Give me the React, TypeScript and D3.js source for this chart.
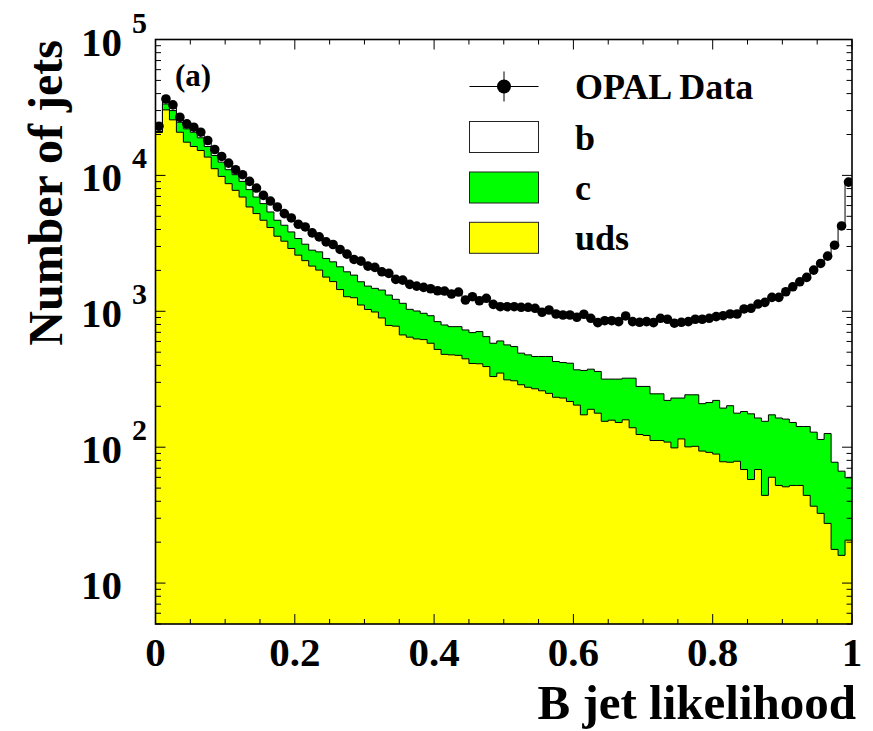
import React from 'react';
import * as d3 from 'd3';

// ---------- data ----------
const NBINS = 100;
const X_DOMAIN: [number, number] = [0, 1];
const Y_DOMAIN: [number, number] = [5, 1e5];

// OPAL data, counts per bin of width 0.01
const dataCounts = [
  23000, 36530, 33010, 26780, 23950, 22620, 20780, 18060, 15510, 13790,
  12310, 11010, 10120, 9036, 8070, 7134, 6478, 5855, 5236, 4861,
  4371, 4176, 3773, 3527, 3240, 3101, 2851, 2633, 2407, 2339,
  2150, 2103, 1952, 1900, 1717, 1697, 1578, 1533, 1500, 1465,
  1416, 1409, 1339, 1385, 1210, 1280, 1196, 1246, 1125, 1081,
  1081, 1081, 1070, 1070, 1052, 983, 1022, 955, 939, 939,
  904, 951, 888, 825, 853, 853, 839, 924, 839, 830,
  839, 825, 888, 874, 817, 830, 839, 874, 874, 888,
  913, 928, 955, 955, 1040, 1052, 1131, 1164, 1267, 1267,
  1393, 1515, 1649, 1776, 2009, 2250, 2545, 3064, 4246, 8930,
];

// stacked MC: uds + c + b (top of the white histogram)
const stackB = [
  22300, 35000, 31800, 25800, 23000, 21800, 20000, 17400, 15000, 13300,
  11900, 10650, 9800, 8750, 7800, 6900, 6250, 5650, 5050, 4700,
  4220, 4030, 3640, 3400, 3130, 2990, 2750, 2540, 2330, 2260,
  2080, 2030, 1890, 1840, 1660, 1640, 1530, 1490, 1455, 1420,
  1375, 1370, 1300, 1345, 1175, 1245, 1160, 1210, 1095, 1050,
  1050, 1050, 1040, 1040, 1020, 955, 995, 930, 915, 915,
  880, 925, 865, 805, 830, 830, 815, 900, 815, 805,
  815, 800, 860, 848, 792, 805, 815, 848, 848, 862,
  890, 905, 930, 930, 1015, 1025, 1100, 1135, 1235, 1235,
  1360, 1480, 1610, 1735, 1960, 2200, 2490, 3000, 4150, 8750,
];

// stacked MC: uds + c (top of the green histogram)
const stackC = [
  21030, 33570, 29990, 24610, 22010, 20780, 18900, 16320, 14020, 12520,
  11010, 10120, 9036, 7856, 6931, 6200, 5380, 4676, 4298, 3837,
  3432, 3117, 2817, 2737, 2448, 2311, 2125, 1952, 1846, 1649,
  1533, 1475, 1433, 1317, 1225, 1145, 1034, 1005, 967, 928,
  839, 793, 771, 771, 729, 697, 709, 651, 582, 605,
  566, 550, 492, 478, 465, 465, 465, 427, 420, 415,
  371, 367, 375, 361, 317, 317, 317, 322, 322, 280,
  280, 247, 247, 221, 230, 230, 243, 243, 209, 213,
  221, 194, 202, 178, 183, 176, 164, 155, 173, 164,
  161, 152, 142, 142, 129, 114, 126, 77.5, 66.6, 59.5,
];

// uds only (top of the yellow histogram)
const stackUds = [
  20680, 30340, 25630, 20780, 17550, 16320, 15250, 13630, 11200, 9833,
  8692, 7762, 6931, 5855, 5236, 4676, 4133, 3568, 3279, 2899,
  2589, 2359, 2150, 2009, 1785, 1654, 1445, 1280, 1258, 1112,
  1031, 988, 893, 787, 777, 670, 645, 626, 619, 582,
  524, 482, 478, 474, 447, 413, 411, 392, 331, 351,
  313, 308, 288, 276, 269, 260, 249, 233, 230, 217,
  204, 173, 190, 178, 155, 158, 152, 159, 139, 124,
  122, 112, 112, 109, 98.8, 115, 100.5, 101.5, 93.6, 91.6,
  89, 78.1, 77.5, 78.8, 68.5, 57.8, 68.5, 44.2, 60.1, 52.3,
  51.1, 52.3, 52.3, 44.2, 36.8, 32.6, 27.5, 17.7, 16.0, 20.7,
];

const xTickValues = [0, 0.2, 0.4, 0.6, 0.8, 1];
const xTickLabels = ['0', '0.2', '0.4', '0.6', '0.8', '1'];
const yDecadeExponents = [1, 2, 3, 4, 5];
const legendLabels = ['OPAL Data', 'b', 'c', 'uds'];
const legendFills = [null, '#ffffff', '#00ff00', '#ffff00'];

// ---------- layout ----------
const W = 873;
const H = 731;
const PL = 155.5;
const PR = 852;
const PT = 39.5;
const PB = 624;
const FONT = "'Liberation Serif', 'Times New Roman', Times, 'DejaVu Serif', serif";
const TXT: React.CSSProperties = { fontFamily: FONT, fontWeight: 700 };

export default function App() {
  const x = d3.scaleLinear().domain(X_DOMAIN).range([PL, PR]);
  const y = d3.scaleLog().domain(Y_DOMAIN).range([PB, PT]);
  const binW = (X_DOMAIN[1] - X_DOMAIN[0]) / NBINS;

  const stepPts = (vals: number[]) => {
    const pts: [number, number][] = [];
    vals.forEach((v, i) => {
      pts.push([x(X_DOMAIN[0] + i * binW), y(v)]);
      pts.push([x(X_DOMAIN[0] + (i + 1) * binW), y(v)]);
    });
    return pts;
  };
  const area = d3.area<[number, number]>().x((p) => p[0]).y0(y(Y_DOMAIN[0])).y1((p) => p[1]);
  const line = d3.line<[number, number]>().x((p) => p[0]).y((p) => p[1]);

  const layers = [
    { vals: stackB, fill: '#ffffff' },
    { vals: stackC, fill: '#00ff00' },
    { vals: stackUds, fill: '#ffff00' },
  ];

  const xMinor = d3.range(0, 21).map((k) => k * 0.05);
  const yMinor: number[] = [];
  for (let e = 0; e <= 4; e++) {
    for (let m = 2; m <= 9; m++) {
      const v = m * Math.pow(10, e);
      if (v >= Y_DOMAIN[0] && v < Y_DOMAIN[1]) yMinor.push(v);
    }
  }

  const legX0 = 469.5;
  const legX1 = 538.5;
  const legRowY = [86.5, 137, 187.5, 237.8];

  return (
    <svg
      width={W}
      height={H}
      viewBox={`0 0 ${W} ${H}`}
      style={{ position: 'absolute', left: 0, top: 0, background: '#fff' }}
    >
      <rect x={0} y={0} width={W} height={H} fill="#fff" />
      <defs>
        <clipPath id="plotClip">
          <rect x={PL} y={PT} width={PR - PL} height={PB - PT} />
        </clipPath>
      </defs>

      <g clipPath="url(#plotClip)">
        {layers.map((l, i) => {
          const pts = stepPts(l.vals);
          return (
            <g key={i}>
              <path d={area(pts) || ''} fill={l.fill} stroke="none" />
              <path d={line(pts) || ''} fill="none" stroke="#000" strokeWidth={1} />
            </g>
          );
        })}
        {dataCounts.map((v, i) => {
          const cx = x(X_DOMAIN[0] + (i + 0.5) * binW);
          const cy = y(v);
          const err = Math.sqrt(v);
          return (
            <g key={i}>
              <line x1={x(X_DOMAIN[0] + i * binW)} x2={x(X_DOMAIN[0] + (i + 1) * binW)} y1={cy} y2={cy} stroke="#000" strokeWidth={1} />
              <line x1={cx} x2={cx} y1={y(v + err)} y2={y(Math.max(v - err, Y_DOMAIN[0]))} stroke="#000" strokeWidth={1} />
              <circle cx={cx} cy={cy} r={4.8} fill="#000" />
            </g>
          );
        })}
      </g>

      {xMinor.map((v, i) => {
        const major = xTickValues.some((t) => Math.abs(t - v) < 1e-9);
        const len = major ? 10 : 5;
        const px = x(v);
        return (
          <g key={'xt' + i}>
            <line x1={px} x2={px} y1={PB} y2={PB - len} stroke="#000" strokeWidth={1} />
            <line x1={px} x2={px} y1={PT} y2={PT + len} stroke="#000" strokeWidth={1} />
          </g>
        );
      })}
      {yDecadeExponents.map((e) => {
        const py = y(Math.pow(10, e));
        return (
          <g key={'yM' + e}>
            <line x1={PL} x2={PL + 10} y1={py} y2={py} stroke="#000" strokeWidth={1} />
            <line x1={PR} x2={PR - 10} y1={py} y2={py} stroke="#000" strokeWidth={1} />
          </g>
        );
      })}
      {yMinor.map((v, i) => {
        const py = y(v);
        return (
          <g key={'ym' + i}>
            <line x1={PL} x2={PL + 5.5} y1={py} y2={py} stroke="#000" strokeWidth={1} />
            <line x1={PR} x2={PR - 5.5} y1={py} y2={py} stroke="#000" strokeWidth={1} />
          </g>
        );
      })}

      <rect x={PL} y={PT} width={PR - PL} height={PB - PT} fill="none" stroke="#000" strokeWidth={1.6} />

      {xTickValues.map((v, i) => (
        <text key={'xl' + i} x={x(v)} y={666} textAnchor="middle" fontSize={41} style={TXT}>
          {xTickLabels[i]}
        </text>
      ))}
      {yDecadeExponents.map((e) => {
        const py = y(Math.pow(10, e));
        return (
          <g key={'yl' + e}>
            <text x={122} y={py + 16} textAnchor="end" fontSize={41} style={TXT}>10</text>
            {e > 1 && (
              <text x={132} y={py - 7} textAnchor="start" fontSize={30} style={TXT}>{String(e)}</text>
            )}
          </g>
        );
      })}

      <text x={856} y={719} textAnchor="end" fontSize={49} style={TXT}>B jet likelihood</text>
      <text transform="translate(62,40) rotate(-90)" textAnchor="end" fontSize={48} style={TXT}>Number of jets</text>

      <text x={175} y={86} fontSize={31} style={TXT}>(a)</text>

      {legendLabels.map((lab, i) => {
        const cy = legRowY[i];
        const fill = legendFills[i];
        return (
          <g key={'lg' + i}>
            {fill === null ? (
              <g>
                <line x1={legX0} x2={legX1} y1={cy} y2={cy} stroke="#000" strokeWidth={1} />
                <line x1={(legX0 + legX1) / 2} x2={(legX0 + legX1) / 2} y1={cy - 15} y2={cy + 15} stroke="#000" strokeWidth={1} />
                <circle cx={(legX0 + legX1) / 2} cy={cy} r={7} fill="#000" />
              </g>
            ) : (
              <rect x={legX0} y={cy - 15.5} width={legX1 - legX0} height={31} fill={fill} stroke="#222" strokeWidth={1} />
            )}
            <text x={575} y={cy + 12.5} fontSize={36} style={TXT}>{lab}</text>
          </g>
        );
      })}
    </svg>
  );
}
